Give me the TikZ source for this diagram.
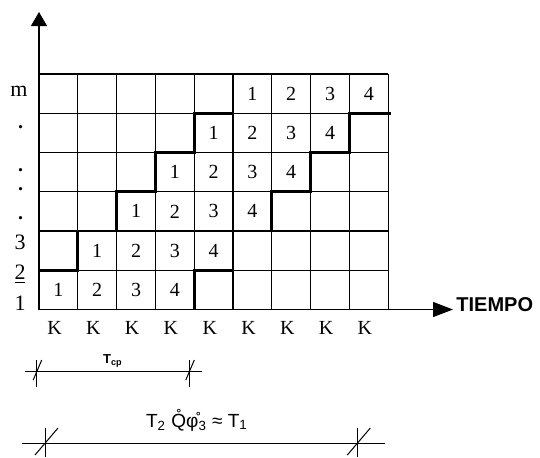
\documentclass[tikz,border=0pt]{standalone}
\usepackage{fontspec}
\setmainfont{Liberation Serif}
\setsansfont{Liberation Sans}
\usetikzlibrary{arrows.meta}

\begin{document}
\begin{tikzpicture}[x=0.5pt,y=-0.5pt,
   every node/.style={inner sep=0pt},
   cell/.style={line width=0.6pt},
   stair/.style={line width=1.4pt},
   num/.style={font=\fontsize{10}{12}\selectfont},
   rowlab/.style={font=\fontsize{11}{13}\selectfont},
   dim/.style={line width=0.5pt}]
  \useasboundingbox (0,0) rectangle (540,457);
  % axes
  \coordinate (origin) at (39,309.5);
  \coordinate (ytip) at (39,12);
  \coordinate (xtip) at (453,309.5);
  \draw[line width=0.6pt,-{Triangle[length=7pt,width=8pt]}] (origin) -- (ytip);
  \draw[line width=0.6pt,-{Triangle[length=10pt,width=7.5pt]}] (origin) -- (xtip);
  \node[font=\sffamily\bfseries\fontsize{10}{12}\selectfont,anchor=west] (tiempo) at (456,305) {TIEMPO};
  % grid of stages
  \begin{scope}[shift={(origin)},x=19.4pt,y=19.625pt]
    \foreach \c in {0,...,9} {\draw[cell] (\c,0) -- (\c,6);}
    \foreach \r in {0,...,6} {\draw[cell] (0,\r) -- (9,\r);}
    \foreach \r in {1,...,6}
      \foreach \k in {1,...,4}
        {\node[num] (n\r\k) at (\r+\k-1.5,\r-0.5) {\k};}
    \foreach \c in {1,...,9} {\node[num] (k\c) at (\c-0.6,-0.47) {K};}
    \draw[stair] (0,0) \foreach \i in {1,...,5} {-- (\i-1,\i) -- (\i,\i)} -- (5,6);
    \draw[stair] (4,0) \foreach \i in {1,...,4} {-- (\i+3,\i) -- (\i+4,\i)} -- (8,5) -- (9.08,5);
  \end{scope}
  % row labels
  \node[rowlab] (lm) at (19,91) {m};
  \foreach \y/\nm in {127/d1,170/d2,189/d3,218/d4} {\node[rowlab,font=\bfseries] (\nm) at (20.7,\y) {.};}
  \node[rowlab] (l3) at (20,242.5) {3};
  \node[rowlab] (l2) at (20,274) {\underline{2}};
  \node[rowlab] (l1) at (20,303) {1};
  % cycle time
  \coordinate (tcpa) at (25,371.7);
  \coordinate (tcpb) at (201.7,371.7);
  \draw[dim] (tcpa) -- (tcpb);
  \foreach \x in {36.7,189.3} {\draw[dim] (\x,360) -- (\x,386.7); \draw[dim] (\x-3.5,380) -- (\x+5,360);}
  \node[font=\sffamily\bfseries\fontsize{6.5}{7}\selectfont] (tcp) at (113,361) {T\textsubscript{cp}};
  % total time
  \coordinate (tota) at (21.7,443.3);
  \coordinate (totb) at (385,443.3);
  \draw[dim] (tota) -- (totb);
  \foreach \x in {45,357.3} {\draw[dim] (\x,428) -- (\x,457); \draw[dim] (\x-10,455) -- (\x+13,428);}
  \node[font=\sffamily\fontsize{9.5}{11}\selectfont] (tot) at (197,420) {T\textsubscript{2} \r{Q}\r{φ}\textsubscript{3} ≈ T\textsubscript{1}};
\end{tikzpicture}
\end{document}
